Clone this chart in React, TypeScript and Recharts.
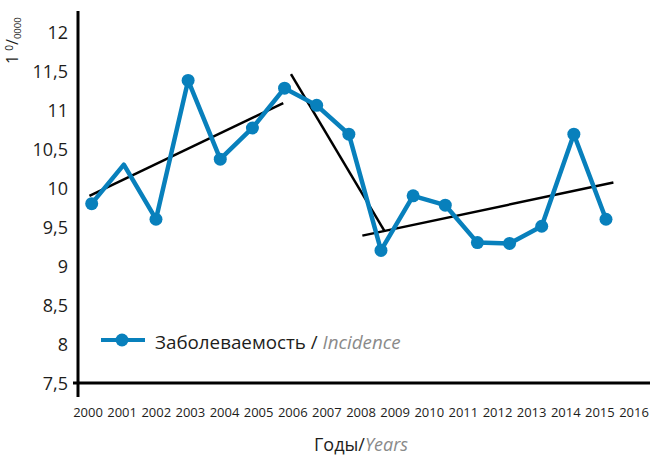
import React from 'react';
import {ComposedChart, Line, XAxis, YAxis, Legend} from 'recharts';

const years = [2000, 2001, 2002, 2003, 2004, 2005, 2006, 2007, 2008, 2009, 2010, 2011, 2012, 2013, 2014, 2015, 2016];
const incidence = [9.8, 10.3, 9.6, 11.38, 10.37, 10.77, 11.28, 11.06, 10.69, 9.2, 9.9, 9.78, 9.3, 9.29, 9.51, 10.69, 9.6];
const yTicks = [7.5, 8, 8.5, 9, 9.5, 10, 10.5, 11, 11.5, 12];

// linear trends drawn over the series (start / end points)
const trendRise = [{year: 1999.93, value: 9.9}, {year: 2005.96, value: 11.09}];
const trendFall = [{year: 2006.2, value: 11.46}, {year: 2009.12, value: 9.44}];
const trendLate = [{year: 2008.42, value: 9.39}, {year: 2016.23, value: 10.07}];

const seriesRu = 'Заболеваемость';
const seriesEn = 'Incidence';
const axisRu = 'Годы';
const axisEn = 'Years';

const data = years.map((year, i) => ({year, value: incidence[i]}));

const BLUE = '#0880bc';
const INK = '#1d1d1b';
const GREY = '#8a8a8a';
const FONT = '"Open Sans", sans-serif';

const YTick = (props: any) => {
    const {x, y, payload} = props;
    return (
        <g>
            <text x={x} y={y} dy={6.5} textAnchor="end" fontSize={18} fill={INK} fontFamily={FONT}>
                {String(payload.value).replace('.', ',')}
            </text>
            {payload.value === yTicks[0] && (
                <g stroke="#000" strokeWidth={3}>
                    <line x1={x + 5} y1={y} x2={x + 10} y2={y}/>
                    <line x1={x + 10} y1={y} x2={x + 10} y2={y + 14}/>
                </g>
            )}
        </g>
    );
};

const XTick = (props: any) => {
    const {x, y, payload} = props;
    return (
        <text x={x} y={y} dy={34} textAnchor="middle" fontSize={13} fill={INK} fontFamily={FONT}>
            {payload.value}
        </text>
    );
};

const renderDot = (props: any) => {
    const {cx, cy, index} = props;
    if (index === 1) return <g key={`d${index}`}/>;
    return <circle key={`d${index}`} cx={cx} cy={cy} r={6.5} fill={BLUE}/>;
};

const LegendContent = () => (
    <div style={{display: 'flex', alignItems: 'center', fontSize: 18.8, lineHeight: '20px', whiteSpace: 'nowrap', fontFamily: FONT, color: INK}}>
        <svg width={44} height={14} style={{marginTop: -4}}>
            <line x1={0} y1={7} x2={44} y2={7} stroke={BLUE} strokeWidth={4}/>
            <circle cx={21} cy={7} r={6.5} fill={BLUE}/>
        </svg>
        <span style={{marginLeft: 10}}>
            {seriesRu} / <i style={{color: GREY}}>{seriesEn}</i>
        </span>
    </div>
);

const App = () => {
    return (
        <div style={{position: 'absolute', left: 0, top: 0, width: 650, height: 457, background: '#fff'}}>
            <ComposedChart width={650} height={457} data={data} margin={{top: 11, right: 0, left: 0, bottom: 0}}>
                <XAxis
                    xAxisId="labels"
                    dataKey="year"
                    type="number"
                    domain={[1999.707, 2016.469]}
                    allowDataOverflow
                    ticks={years}
                    interval={0}
                    height={74}
                    tickSize={0}
                    tickMargin={0}
                    tick={<XTick/>}
                    axisLine={{stroke: '#000', strokeWidth: 3}}
                    label={{
                        content: (p: any) => (
                            <text x={p.viewBox.x + 283} y={p.viewBox.y + 68} textAnchor="middle" fontSize={18} fontFamily={FONT} fill={INK}>
                                {axisRu}/<tspan fill={GREY} fontStyle="italic">{axisEn}</tspan>
                            </text>
                        ),
                    }}
                />
                <XAxis xAxisId="data" dataKey="year" type="number" domain={[1999.574, 2017.369]} allowDataOverflow hide height={0}/>
                <YAxis
                    type="number"
                    domain={[7.5, 12.27]}
                    allowDataOverflow
                    ticks={yTicks}
                    interval={0}
                    width={78}
                    tickSize={0}
                    tickMargin={10}
                    tick={<YTick/>}
                    axisLine={{stroke: '#000', strokeWidth: 3}}
                    label={{
                        content: () => (
                            <text transform="translate(18,64) rotate(-90)" fontFamily={FONT} fill={INK} fontSize={16}>
                                1 <tspan fontSize={10} dy={-5}>0</tspan><tspan dy={5}>/</tspan><tspan fontSize={9.5} dy={3}>0000</tspan>
                            </text>
                        ),
                    }}
                />
                <Legend
                    layout="horizontal"
                    verticalAlign="middle"
                    align="center"
                    content={<LegendContent/>}
                    wrapperStyle={{left: 101, top: 332, width: 'auto'}}
                />
                {/* carrier for the year labels axis, not drawn */}
                <Line xAxisId="labels" dataKey="value" stroke="none" dot={false} activeDot={false} legendType="none" isAnimationActive={false}/>
                <Line xAxisId="data" data={trendRise} dataKey="value" stroke="#000" strokeWidth={2.5} dot={false} activeDot={false} legendType="none" isAnimationActive={false}/>
                <Line xAxisId="data" data={trendFall} dataKey="value" stroke="#000" strokeWidth={2.5} dot={false} activeDot={false} legendType="none" isAnimationActive={false}/>
                <Line xAxisId="data" data={trendLate} dataKey="value" stroke="#000" strokeWidth={2.5} dot={false} activeDot={false} legendType="none" isAnimationActive={false}/>
                <Line
                    xAxisId="data"
                    dataKey="value"
                    name={seriesRu}
                    stroke={BLUE}
                    strokeWidth={4.5}
                    strokeLinejoin="round"
                    dot={renderDot}
                    activeDot={false}
                    isAnimationActive={false}
                />
            </ComposedChart>
        </div>
    );
};

export default App;
